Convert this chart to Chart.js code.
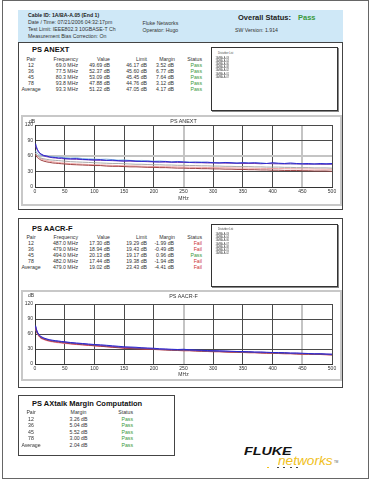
<!DOCTYPE html>
<html>
<head>
<meta charset="utf-8">
<script src="https://cdn.jsdelivr.net/npm/chart.js@4.4.1/dist/chart.umd.min.js"></script>
<style>
  body { margin: 0; width: 371px; height: 480px; background: #fff; position: relative; overflow: hidden;
         font-family: "Liberation Sans", Arial, sans-serif; color: #333; }
  .a { position: absolute; white-space: nowrap; line-height: 1; }
  .box { position: absolute; box-sizing: border-box; }
  canvas { position: absolute; }
</style>
</head>
<body>
<div class="box" style="left:2px;top:0;width:367px;height:479px;border:1px solid #666"></div>
<div class="box" style="left:18px;top:10px;width:325px;height:32px;background:#cfe8f7"></div>

<div class="box" style="left:18px;top:42px;width:325px;height:168px;border:1px solid #444"></div>
<div class="box" style="left:211px;top:47px;width:127px;height:64px;border:1px solid #333;box-shadow:1px 1px 0 #888"></div>
<div class="box" style="left:21px;top:115px;width:321px;height:91px;border:2px solid #c8c8c8"></div>
<canvas id="anextChart" width="317" height="87" style="left:23px;top:117px"></canvas>

<div class="box" style="left:18px;top:218px;width:325px;height:170px;border:1px solid #444"></div>
<div class="box" style="left:211px;top:224px;width:127px;height:63px;border:1px solid #333;box-shadow:1px 1px 0 #888"></div>
<div class="box" style="left:21px;top:290px;width:321px;height:91px;border:2px solid #c8c8c8"></div>
<canvas id="aacrChart" width="317" height="87" style="left:23px;top:292px"></canvas>

<div class="box" style="left:18px;top:395px;width:157px;height:61px;border:1px solid #444"></div>

<script>
// frequency points (MHz) shared by both plots
const freq = [1, 2, 4, 6, 8, 10, 15, 20, 25, 30, 35, 40, 45, 50,
  60, 70, 80, 90, 100, 110, 120, 130, 140, 150,
  160, 170, 180, 190, 200, 210, 220, 230, 240, 250,
  260, 270, 280, 290, 300, 310, 320, 330, 340, 350,
  360, 370, 380, 390, 400, 410, 420, 430, 440, 450,
  460, 470, 480, 490, 500];

// PS ANEXT curves (dB)
const anext45 = [84, 79, 73, 69, 66, 64, 61, 60, 58, 57.5, 57, 56, 56.5, 55,
  54.5, 55, 53.5, 53, 52.5, 53, 51.5, 52, 51, 50.5,
  51, 50, 49.5, 50, 49, 48.5, 49.5, 48, 49, 48.5,
  47.5, 48, 47.5, 48, 47, 46.5, 47.5, 47, 46, 47,
  46.5, 47, 46, 45.5, 47, 46, 45.5, 46.5, 45.5, 45,
  45.5, 44.5, 45.5, 45, 45.5];
const anext36 = [80, 76, 71, 67, 64.5, 63, 60, 58.5, 57.5, 56.5, 56, 55.5, 55, 54.5,
  54, 53.5, 53, 52.5, 52, 51.5, 51.5, 51, 50.5, 50,
  50, 49.5, 49.5, 49, 48.5, 48.5, 48, 48, 47.5, 47.5,
  47.5, 47, 47, 46.5, 46.5, 46.5, 46, 46, 46, 45.5,
  45.5, 45.5, 45, 45.5, 45, 45, 44.5, 45, 44.5, 44.5,
  44, 44.5, 44, 44, 44];
const anext12 = [70, 68, 65, 63, 62, 61, 60, 59.5, 59, 58.5, 58, 58.5, 57.5, 57,
  56, 56.5, 55, 54.5, 54, 53.5, 54, 53, 52, 52.5,
  51.5, 51, 51.5, 50.5, 50, 50.5, 49.5, 49, 49.5, 48.5,
  48.5, 48, 48.5, 47.5, 47.5, 47, 47.5, 46.5, 46.5, 47,
  46, 46, 46.5, 45.5, 45.5, 45, 45.5, 44.5, 45, 44.5,
  44, 44.5, 43.5, 44, 43.5];
const anext78 = [66, 64, 61, 59, 57, 56, 54.5, 53.5, 52.5, 52, 51.5, 51, 50.5, 50,
  49, 48.5, 48, 47.5, 47, 46.5, 46, 45.5, 45.5, 45,
  44.5, 44, 44, 43.5, 43, 43, 42.5, 42.5, 42, 42,
  41.5, 41.5, 41, 41, 40.5, 40.5, 40, 40, 39.5, 39.5,
  39.5, 39, 39, 38.5, 38.5, 38.5, 38, 38, 37.5, 37.5,
  37.5, 37, 37, 37, 36.5];
const anextLimitAvg = [62, 60, 57, 55, 53.5, 52, 50, 48.5, 47.5, 46.5, 46, 45.5, 45, 44.5,
  43.5, 43, 42.5, 42, 41.5, 41.5, 40.5, 40, 40, 39.5,
  39, 39, 38.5, 38, 38, 37.5, 37.5, 37, 36.5, 36.5,
  36, 36, 35.5, 35.5, 35, 35, 34.5, 34.5, 34, 34,
  33.5, 33.5, 33, 33, 32.5, 32.5, 32, 32, 32, 31.5,
  31.5, 31, 31, 31, 30.5];
const anextLimit = [65, 63, 60, 57.5, 56, 54.5, 52.5, 51, 49.8, 48.8, 48, 47.3, 46.7, 46.2,
  45.4, 44.7, 44.1, 43.6, 43.1, 42.7, 42.3, 41.9, 41.5, 41.2,
  40.9, 40.6, 40.3, 40, 39.7, 39.5, 39.2, 39, 38.8, 38.5,
  38.3, 38.1, 37.9, 37.7, 37.5, 37.3, 37.1, 36.9, 36.7, 36.6,
  36.4, 36.2, 36.1, 35.9, 35.8, 35.6, 35.5, 35.3, 35.2, 35,
  34.9, 34.8, 34.6, 34.5, 34.4];

// PS AACR-F curves (dB)
const aacr45 = [77, 71, 64, 60, 57, 55, 52, 50, 48.5, 47.5, 46.5, 46, 45, 44.5,
  43, 42, 41, 40, 39, 38.5, 37.5, 36.5, 35.5, 34.5,
  34, 33.5, 32.5, 32, 31.5, 30.5, 30, 29.5, 29, 29.5,
  28.5, 28, 27.5, 27, 26.5, 26.5, 26, 25.5, 25, 25,
  24.5, 24, 24, 23.5, 23, 23, 22.5, 22, 22, 21.5,
  21, 20.5, 20.5, 20, 19.5];
const aacr36 = [75, 69.5, 63, 59, 56, 54, 51, 49.5, 47.5, 46.5, 46, 45, 44.5, 43.5,
  42.5, 41, 40.5, 39, 38.5, 37, 36.5, 35, 34.5, 33,
  33, 32, 32, 31, 30.5, 29.5, 29.5, 28.5, 28.5, 28,
  28, 27, 27, 26, 26.5, 25.5, 25.5, 25, 25, 24,
  24.5, 23.5, 23.5, 23, 23, 22, 22.5, 21.5, 21.5, 21,
  21, 20, 20.5, 19.5, 19.5];
const aacr78 = [74, 68, 62, 58, 55, 53, 50.5, 48.5, 47, 46, 45, 44.5, 43.5, 43,
  41.5, 40.5, 39.5, 38.5, 37.5, 36.5, 35.5, 34.5, 33.5, 32.5,
  32, 31.5, 31, 30.5, 29.5, 29, 28.5, 28, 27.5, 27.5,
  27, 26.5, 26, 25.5, 25.5, 25, 24.5, 24.5, 24, 23.5,
  23.5, 23, 22.5, 22.5, 22, 21.5, 21.5, 21, 20.5, 20.5,
  20, 19.5, 19.5, 19, 18.5];
const aacr12 = [73, 67, 61, 57, 54, 52, 49.5, 47.5, 46, 45, 44, 43.5, 42.5, 42,
  40.5, 39.5, 38.5, 37.5, 36.5, 35.5, 34.5, 33.5, 32.5, 31.5,
  31, 30.5, 30, 29.5, 29, 28.5, 28, 27.5, 27, 26.5,
  26.5, 26, 25.5, 25, 24.5, 24.5, 24, 23.5, 23.5, 23,
  22.5, 22.5, 22, 21.5, 21.5, 21, 20.5, 20.5, 20, 19.5,
  19.5, 19, 19, 18.5, 18];
const aacrLimit = [72, 66, 60, 56, 53, 51, 48.5, 46.5, 45, 44, 43, 42.3, 41.6, 41,
  39.8, 38.8, 37.9, 37, 36.2, 35.5, 34.7, 34, 33.3, 32.6,
  32, 31.4, 30.8, 30.3, 29.8, 29.3, 28.8, 28.3, 27.9, 27.4,
  27, 26.6, 26.2, 25.8, 25.4, 25, 24.6, 24.3, 23.9, 23.6,
  23.2, 22.9, 22.6, 22.3, 22, 21.7, 21.4, 21.1, 20.8, 20.5,
  20.2, 19.9, 19.6, 19.4, 19.1];

const dbTicks = [0, 30, 60, 90, 120];
const mhzTicks = [0, 50, 100, 150, 200, 250, 300, 350, 400, 450, 500];

// result tables
const tableHead = ['Pair', 'Frequency', 'Value', 'Limit', 'Margin', 'Status'];
const anextRows = [
  ['12', '69.0 MHz', '49.69 dB', '46.17 dB', '3.52 dB', 'Pass'],
  ['36', '77.5 MHz', '52.37 dB', '45.60 dB', '6.77 dB', 'Pass'],
  ['45', '80.3 MHz', '53.09 dB', '45.45 dB', '7.64 dB', 'Pass'],
  ['78', '93.8 MHz', '47.88 dB', '44.76 dB', '3.12 dB', 'Pass'],
  ['Average', '93.3 MHz', '51.22 dB', '47.05 dB', '4.17 dB', 'Pass']
];
const aacrRows = [
  ['12', '487.0 MHz', '17.30 dB', '19.29 dB', '-1.99 dB', 'Fail'],
  ['36', '479.0 MHz', '18.94 dB', '19.43 dB', '-0.49 dB', 'Fail'],
  ['45', '494.0 MHz', '20.13 dB', '19.17 dB', '0.96 dB', 'Pass'],
  ['78', '482.0 MHz', '17.44 dB', '19.38 dB', '-1.94 dB', 'Fail'],
  ['Average', '479.0 MHz', '19.02 dB', '23.43 dB', '-4.41 dB', 'Fail']
];
const axtalkRows = [
  ['12', '3.26 dB', 'Pass'],
  ['36', '5.04 dB', 'Pass'],
  ['45', '5.52 dB', 'Pass'],
  ['78', '3.00 dB', 'Pass'],
  ['Average', '2.04 dB', 'Pass']
];
const anextDisturbers = ['1A/BA-A.03', '1A/BA-A.04', '1A/BA-A.06', '1A/BA-A.08', '1A/BA-A.02', '1A/BA-A.01', '1A/BA-A.07'];
const aacrDisturbers = ['1A/BA-A.03', '1A/BA-A.04', '1A/BA-A.06', '1A/BA-A.07', '1A/BA-A.08', '1A/BA-A.01', '1A/BA-A.02'];

const PASS = '#3a993a', FAIL = '#cc3333';

function put(x, y, str, o = {}) {
  const d = document.createElement('div');
  const size = o.size || 5.2;
  d.className = 'a';
  d.style.fontSize = size + 'px';
  d.style.left = x + 'px';
  d.style.top = (y - size / 2) + 'px';
  if (o.bold) d.style.fontWeight = 'bold';
  if (o.italic) d.style.fontStyle = 'italic';
  if (o.color) d.style.color = o.color;
  let tf = '';
  if (o.align === 'right') tf = 'translateX(-100%)';
  if (o.align === 'center') tf = 'translateX(-50%)';
  if (o.sx) { tf += ' scaleX(' + o.sx + ')'; d.style.transformOrigin = 'left center'; }
  if (tf) d.style.transform = tf;
  d.textContent = str;
  document.body.appendChild(d);
  return d;
}

// header
put(28, 16, 'Cable ID: 1A/BA-A.05 (End 1)', { bold: true, color: '#222' });
put(28, 23, 'Date / Time: 07/21/2006 04:32:17pm');
put(28, 30, 'Test Limit: IEEE802.3 10GBASE-T Ch');
put(28, 36.7, 'Measurement Bias Correction: On');
put(142.5, 24, 'Fluke Networks');
put(142.5, 30.7, 'Operator: Hugo');
put(238, 17.3, 'Overall Status:', { size: 7.5, bold: true, color: '#222' });
put(298, 17.3, 'Pass', { size: 7.5, bold: true, color: PASS });
put(235, 30.7, 'SW Version: 1.914');

// results tables
const colX = [31, 78, 110, 147, 174, 202];
function table(top, title, rows) {
  put(32, top, title, { size: 7.5, bold: true, color: '#111' });
  tableHead.forEach((h, i) => put(i === 0 ? colX[0] : (i === 4 ? 175 : colX[i]), top + 9.5, h,
    { align: i === 0 ? 'center' : 'right' }));
  rows.forEach((r, j) => {
    const y = top + 15.5 + j * 6;
    r.forEach((v, i) => put(colX[i], y, v, {
      align: i === 0 ? 'center' : 'right',
      color: i === 5 ? (v === 'Pass' ? PASS : FAIL) : undefined
    }));
  });
}
table(50, 'PS ANEXT', anextRows);
table(228.5, 'PS AACR-F', aacrRows);

function disturbers(top, list) {
  put(218, top, 'Disturber List', { size: 2.6, color: '#444' });
  list.forEach((s, i) => put(215.5, top + 4.8 + i * 3.2, s, { size: 2.6, color: '#444' }));
}
disturbers(54, anextDisturbers);
disturbers(230.5, aacrDisturbers);

// chart captions
put(183.5, 121.5, 'PS ANEXT', { size: 5.4, align: 'center' });
put(29, 121, 'dB', { size: 5 });
put(183.5, 296.5, 'PS AACR-F', { size: 5.4, align: 'center' });
put(28, 295.5, 'dB', { size: 5 });

// AXtalk panel
put(32, 404, 'PS AXtalk Margin Computation', { size: 7.5, bold: true, color: '#111' });
put(31, 413, 'Pair', { align: 'center' });
put(78.5, 413, 'Margin', { align: 'center' });
put(133, 413, 'Status', { align: 'right' });
axtalkRows.forEach((r, j) => {
  const y = 419.5 + j * 6.5;
  put(31, y, r[0], { align: 'center' });
  put(78.5, y, r[1], { align: 'center' });
  put(133, y, r[2], { align: 'right', color: PASS });
});

// logo
put(244, 451.5, 'FLUKE', { size: 11, bold: true, italic: true, color: '#111', sx: 1.3 });
put(278, 460, 'networks', { size: 13, italic: true, color: '#f0c020', sx: 1.05 });
put(334, 462, 'TM', { size: 3, color: '#555' });
[[267, '#f0c020'], [277, '#444'], [283, '#444'], [290, '#444'], [296, '#444']].forEach(([x, c]) => {
  const d = document.createElement('div');
  d.className = 'box';
  d.style.cssText = 'left:' + x + 'px;top:466.5px;width:1.5px;height:1.5px;background:' + c;
  document.body.appendChild(d);
});

// charts
function plot(id, series, padTop, xh, titlePad, lightX, lightY) {
  return new Chart(document.getElementById(id), {
    type: 'line',
    data: {
      datasets: series.map(s => ({
        data: freq.map((f, i) => ({ x: f, y: s.values[i] })),
        borderColor: s.color,
        borderWidth: 1,
        pointRadius: 0,
        tension: 0
      }))
    },
    options: {
      responsive: false,
      animation: false,
      devicePixelRatio: 1,
      layout: { padding: { top: padTop, right: 8, left: 0, bottom: 0 } },
      plugins: { legend: { display: false }, tooltip: { enabled: false } },
      scales: {
        x: {
          type: 'linear', min: 0, max: 500,
          afterBuildTicks: s => { s.ticks = mhzTicks.map(v => ({ value: v })); },
          afterFit: s => { s.height = xh; },
          grid: {
            drawTicks: false,
            color: c => lightX.includes(c.tick && c.tick.value) ? '#c4c4c4' : '#4a4a4a',
            lineWidth: c => lightX.includes(c.tick && c.tick.value) ? 2 : 1
          },
          border: { color: '#333' },
          ticks: { font: { size: 5, family: 'Liberation Sans' }, color: '#333', padding: 2, maxRotation: 0, autoSkip: false },
          title: { display: true, text: 'MHz', font: { size: 5, family: 'Liberation Sans' }, color: '#333', padding: { top: 0, bottom: titlePad } }
        },
        y: {
          min: 0, max: 120,
          afterBuildTicks: s => { s.ticks = dbTicks.map(v => ({ value: v })); },
          afterFit: s => { s.width = 12; },
          grid: {
            drawTicks: false,
            color: c => lightY.includes(c.tick && c.tick.value) ? '#c4c4c4' : '#4a4a4a',
            lineWidth: c => lightY.includes(c.tick && c.tick.value) ? 2 : 1
          },
          border: { color: '#333' },
          ticks: { font: { size: 5, family: 'Liberation Sans' }, color: '#333', padding: 2 }
        }
      }
    }
  });
}

plot('anextChart', [
  { values: anext45, color: '#2a2ad0' },
  { values: anext36, color: '#8040b0' },
  { values: anext12, color: '#86bde2' },
  { values: anext78, color: '#aaaaaa' },
  { values: anextLimitAvg, color: '#a04444' },
  { values: anextLimit, color: '#f0a4a4' }
], 8, 17, 2, [250, 450], [60]);

plot('aacrChart', [
  { values: aacr45, color: '#2a2ad0' },
  { values: aacr36, color: '#8040b0' },
  { values: aacr78, color: '#555566' },
  { values: aacr12, color: '#d02a3a' },
  { values: aacrLimit, color: '#f2a0b4' }
], 12, 15, 1, [250, 450], []);
</script>
</body>
</html>
